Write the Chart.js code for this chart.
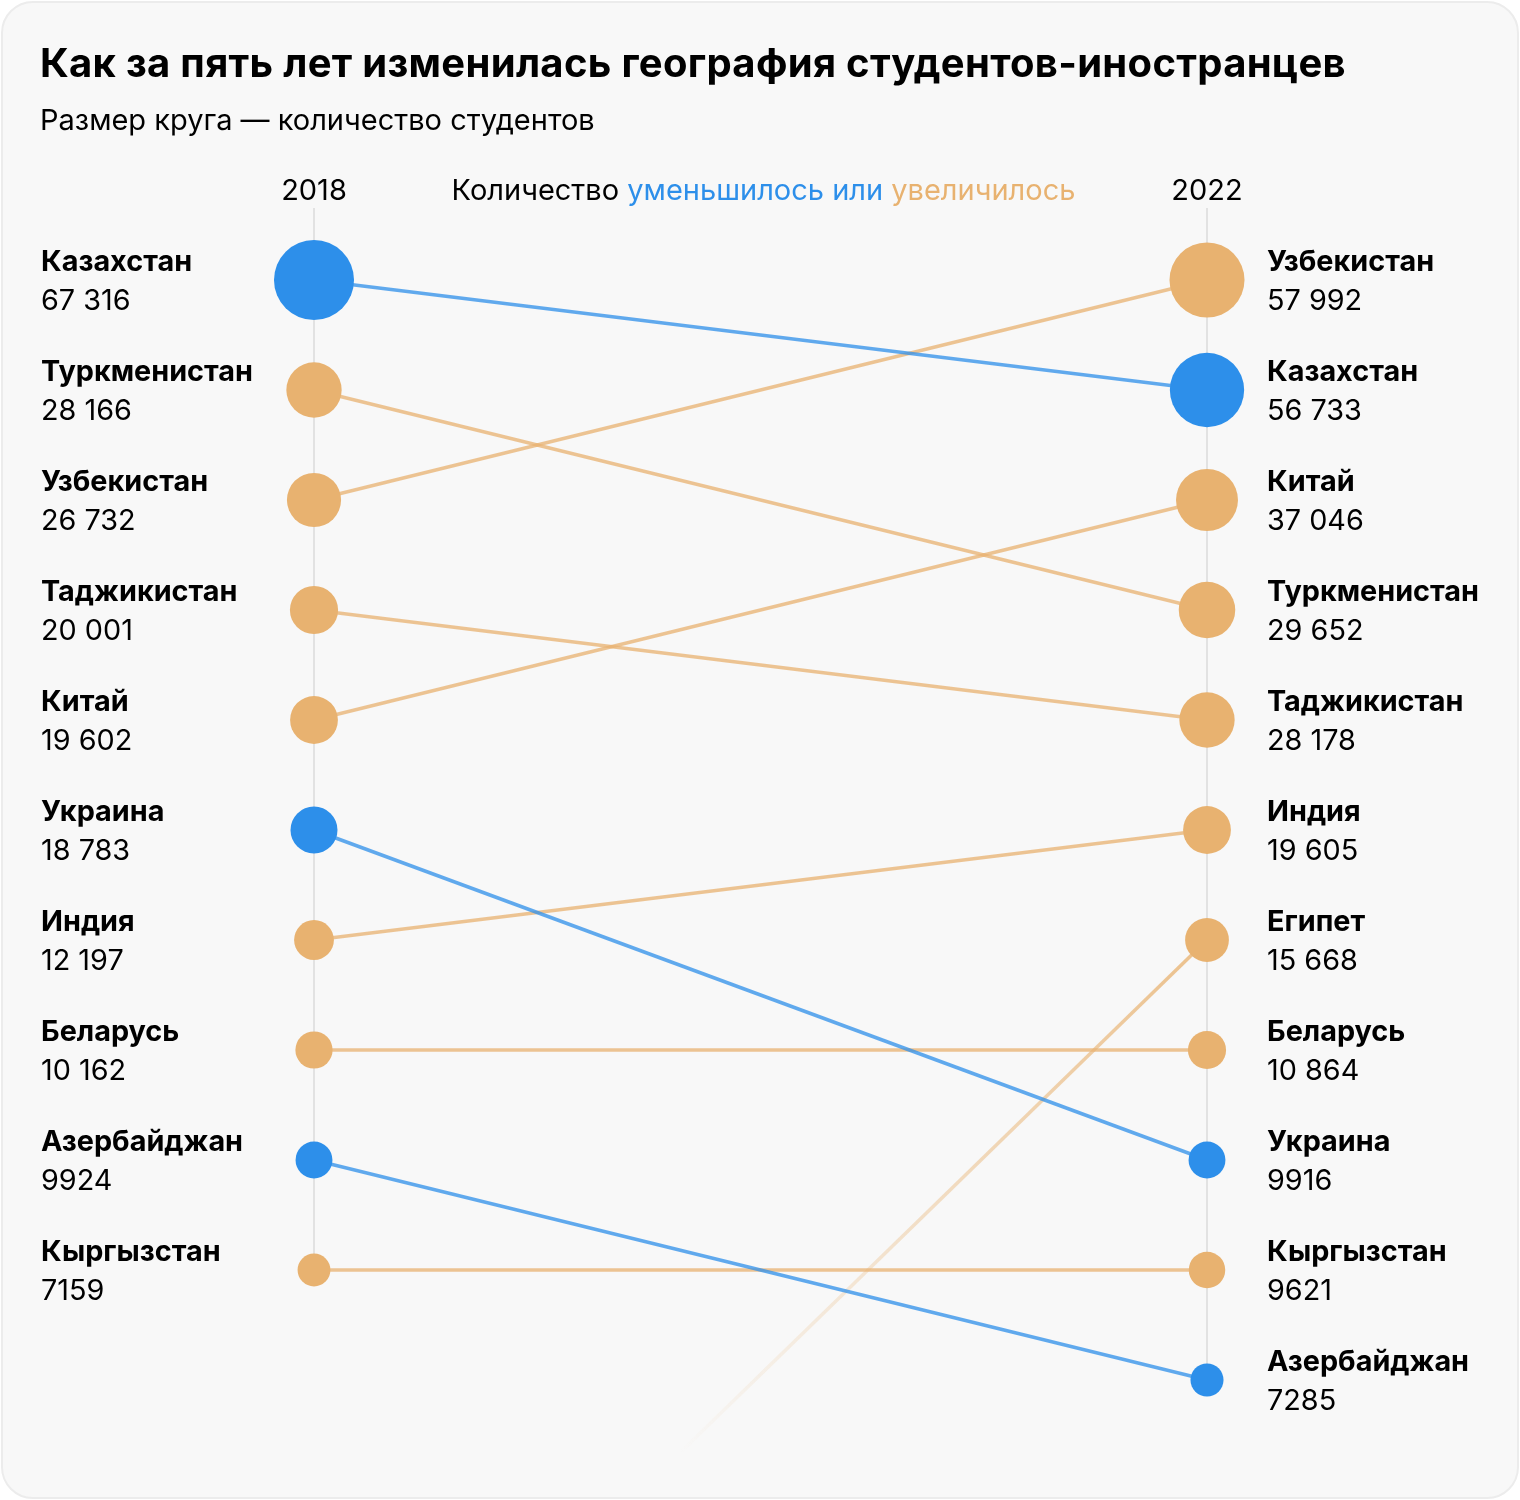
<!DOCTYPE html>
<html lang="ru">
<head>
<meta charset="UTF-8">
<title>География студентов-иностранцев</title>
<script src="https://cdn.jsdelivr.net/npm/chart.js"></script>
<style>
  html, body { margin: 0; padding: 0; background: #fff; }
  .card {
    position: absolute; left: 1px; top: 1px; width: 1514px; height: 1494px;
    background: #f8f8f8; border: 2px solid #ececec; border-radius: 32px; overflow: hidden;
  }
  .title {
    position: absolute; left: 40px; top: 38px; margin: 0; white-space: nowrap;
    font: 700 40px Inter, sans-serif; color: #000; letter-spacing: 0.3px; z-index: 2;
  }
  .subtitle {
    position: absolute; left: 40px; top: 102px; margin: 0; white-space: nowrap;
    font: 400 29px Inter, sans-serif; color: #000; z-index: 2;
  }
  .grafico { position: absolute; left: 0; top: 0; width: 1520px; height: 1500px; }
</style>
</head>
<body>
<div class="card"></div>
<h1 class="title">Как за пять лет изменилась география студентов-иностранцев</h1>
<p class="subtitle">Размер круга — количество студентов</p>
<div class="grafico"><canvas id="myChart"></canvas></div>

<script>
// данные
const anos = ['2018', '2022'];
const paises = ['Казахстан', 'Туркменистан', 'Узбекистан', 'Таджикистан', 'Китай', 'Украина',
                'Индия', 'Беларусь', 'Азербайджан', 'Кыргызстан', 'Египет'];
const alunos2018 = [67316, 28166, 26732, 20001, 19602, 18783, 12197, 10162, 9924, 7159, null];
const alunos2022 = [56733, 29652, 57992, 28178, 37046, 9916, 19605, 10864, 7285, 9621, 15668];
const posicao2018 = [1, 2, 3, 4, 5, 6, 7, 8, 9, 10, 14.9]; // Египет — вне первой десятки
const posicao2022 = [2, 4, 1, 5, 3, 9, 6, 8, 11, 10, 7];

const AZUL = '#2d8fea', AZUL_LINHA = 'rgba(45,143,234,0.75)';
const LARANJA = '#e8b270', LARANJA_LINHA = 'rgba(232,178,112,0.75)';
const FONTE = 'Inter, sans-serif';

function caiu(i) {
  return alunos2018[i] != null && alunos2022[i] < alunos2018[i];
}
function raio(v) {
  return v == null ? 0 : 5 + 0.135 * Math.sqrt(v);
}
function formatar(v) {
  const s = String(v);
  return v >= 10000 ? s.slice(0, -3) + '\u00a0' + s.slice(-3) : s;
}

const datasets = [];

// точки (сверху)
datasets.push({
  type: 'scatter', order: 0, clip: false,
  data: paises.map((p, i) => ({ x: 0, y: posicao2018[i], v: alunos2018[i], i: i })),
  pointRadius: c => raio(c.raw.v), pointHoverRadius: c => raio(c.raw.v),
  pointBackgroundColor: c => caiu(c.raw.i) ? AZUL : LARANJA, pointBorderWidth: 0
});
datasets.push({
  type: 'scatter', order: 0, clip: false,
  data: paises.map((p, i) => ({ x: 1, y: posicao2022[i], v: alunos2022[i], i: i })),
  pointRadius: c => raio(c.raw.v), pointHoverRadius: c => raio(c.raw.v),
  pointBackgroundColor: c => caiu(c.raw.i) ? AZUL : LARANJA, pointBorderWidth: 0
});

// линии
paises.forEach((p, i) => {
  const fora = alunos2018[i] == null;
  datasets.push({
    type: 'line', order: 5, clip: false, pointRadius: 0, borderWidth: 3.5,
    data: [{ x: 0, y: posicao2018[i] }, { x: 1, y: posicao2022[i] }],
    borderColor: function (c) {
      if (!fora) return caiu(i) ? AZUL_LINHA : LARANJA_LINHA;
      const chart = c.chart;
      if (!chart.chartArea) return LARANJA_LINHA;
      const sx = chart.scales.x, sy = chart.scales.y;
      const g = chart.ctx.createLinearGradient(
        sx.getPixelForValue(1), sy.getPixelForValue(posicao2022[i]),
        sx.getPixelForValue(0), sy.getPixelForValue(posicao2018[i]));
      g.addColorStop(0, 'rgba(232,178,112,0.8)');
      g.addColorStop(0.59, 'rgba(232,178,112,0)');
      g.addColorStop(1, 'rgba(232,178,112,0)');
      return g;
    }
  });
});

// вертикальные оси и подписи
const rotulos = {
  id: 'rotulos',
  beforeDatasetsDraw(chart) {
    const ctx = chart.ctx, sx = chart.scales.x, sy = chart.scales.y;
    ctx.save();
    ctx.strokeStyle = '#e2e2e2';
    ctx.lineWidth = 2;
    [0, 1].forEach(x => {
      const px = Math.round(sx.getPixelForValue(x));
      ctx.beginPath();
      ctx.moveTo(px, 208);
      ctx.lineTo(px, sy.getPixelForValue(x == 0 ? 10 : 11));
      ctx.stroke();
    });
    ctx.restore();
  },
  afterDatasetsDraw(chart) {
    const ctx = chart.ctx, sx = chart.scales.x, sy = chart.scales.y;
    const xE = sx.getPixelForValue(0), xD = sx.getPixelForValue(1);
    ctx.save();
    ctx.fillStyle = '#000';
    ctx.textBaseline = 'alphabetic';

    // шапка
    ctx.font = '400 29px ' + FONTE;
    ctx.textAlign = 'center';
    ctx.fillText(anos[0], xE, 200);
    ctx.fillText(anos[1], xD, 200);

    const partes = [['Количество ', '#000'], ['уменьшилось или ', AZUL], ['увеличилось', LARANJA]];
    let total = partes.reduce((s, p) => s + ctx.measureText(p[0]).width, 0);
    let x = (xE + xD) / 2 - total / 2 + 3;
    ctx.textAlign = 'left';
    partes.forEach(p => {
      ctx.fillStyle = p[1];
      ctx.fillText(p[0], x, 200);
      x += ctx.measureText(p[0]).width;
    });

    // страны
    ctx.fillStyle = '#000';
    paises.forEach((p, i) => {
      if (alunos2018[i] != null) {
        const y = sy.getPixelForValue(posicao2018[i]);
        ctx.font = '700 28.8px ' + FONTE;
        ctx.fillText(p, xE - 273, y - 9);
        ctx.font = '400 28.8px ' + FONTE;
        ctx.fillText(formatar(alunos2018[i]), xE - 273, y + 30);
      }
      const y2 = sy.getPixelForValue(posicao2022[i]);
      ctx.font = '700 28.8px ' + FONTE;
      ctx.fillText(p, xD + 60, y2 - 9);
      ctx.font = '400 28.8px ' + FONTE;
      ctx.fillText(formatar(alunos2022[i]), xD + 60, y2 + 30);
    });
    ctx.restore();
  }
};

const grafico = new Chart(document.getElementById('myChart'), {
  data: { datasets: datasets },
  options: {
    responsive: true,
    maintainAspectRatio: false,
    animation: false,
    events: [],
    layout: { padding: { left: 314, right: 313, top: 280, bottom: 120 } },
    scales: {
      x: { type: 'linear', min: 0, max: 1, display: false },
      y: { type: 'linear', min: 1, max: 11, reverse: true, display: false }
    },
    plugins: { legend: { display: false }, tooltip: { enabled: false } }
  },
  plugins: [rotulos]
});
</script>
</body>
</html>
